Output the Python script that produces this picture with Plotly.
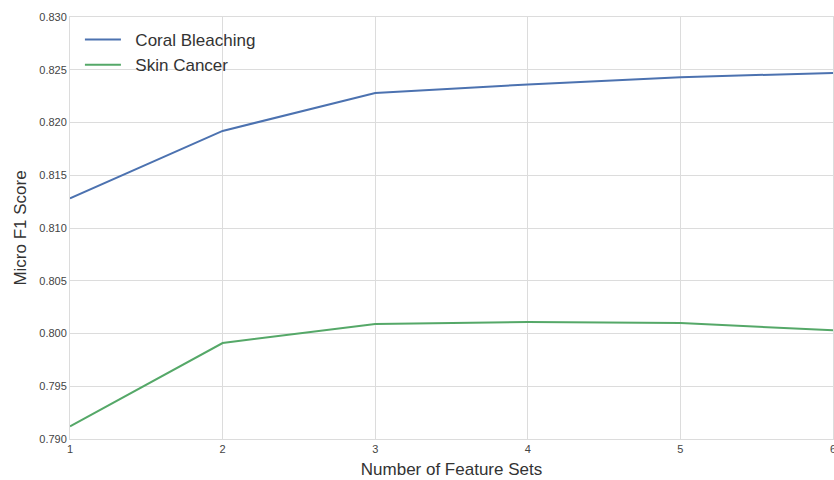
import plotly.graph_objects as go

# Micro F1 score versus the number of feature sets used
feature_sets = [1, 2, 3, 4, 5, 6]
coral_bleaching = [0.8128, 0.8192, 0.8228, 0.8236, 0.8243, 0.8247]
skin_cancer = [0.7912, 0.7991, 0.8009, 0.8011, 0.8010, 0.8003]
series_names = ["Coral Bleaching", "Skin Cancer"]

y_ticks = [0.790, 0.795, 0.800, 0.805, 0.810, 0.815, 0.820, 0.825, 0.830]
y_tick_text = [f"{v:.3f}" for v in y_ticks]

FONT = "Liberation Sans, Arial, sans-serif"
GRID = "#dcdcdc"
PAD = "\u00a0\u00a0"  # extra gap between legend swatch and label

fig = go.Figure()
fig.add_trace(go.Scatter(
    x=feature_sets, y=coral_bleaching, mode="lines", name=PAD + series_names[0],
    line=dict(color="#4C72B0", width=2), cliponaxis=False,
))
fig.add_trace(go.Scatter(
    x=feature_sets, y=skin_cancer, mode="lines", name=PAD + series_names[1],
    line=dict(color="#55A868", width=2), cliponaxis=False,
))

fig.update_layout(
    width=834, height=480,
    margin=dict(l=70, r=1, t=17, b=41),
    paper_bgcolor="white", plot_bgcolor="white",
    font=dict(family=FONT, color="#333333"),
    showlegend=True,
    legend=dict(
        x=0.013, y=0.988, xanchor="left", yanchor="top",
        bgcolor="rgba(0,0,0,0)", borderwidth=0,
        font=dict(size=17, color="#333333"),
        tracegroupgap=0, itemwidth=36,
    ),
)

fig.update_xaxes(
    range=[1, 6], tickvals=feature_sets, ticktext=[str(v) for v in feature_sets],
    showgrid=True, gridcolor=GRID, gridwidth=1,
    showline=True, linecolor=GRID, linewidth=1, mirror=True,
    zeroline=False, ticks="", automargin=False, ticklabeloverflow="allow",
    tickfont=dict(size=11, color="#444444", family=FONT),
    title=dict(text="Number of Feature Sets", font=dict(size=17, color="#333333"), standoff=8),
)
fig.update_yaxes(
    range=[0.790, 0.830], tickvals=y_ticks, ticktext=y_tick_text,
    showgrid=True, gridcolor=GRID, gridwidth=1,
    showline=True, linecolor=GRID, linewidth=1, mirror=True,
    zeroline=False, ticks="", automargin=False,
    tickfont=dict(size=11, color="#444444", family=FONT),
    title=dict(text="Micro F1 Score", font=dict(size=17, color="#333333"), standoff=8),
)

fig.write_html("out.html")
